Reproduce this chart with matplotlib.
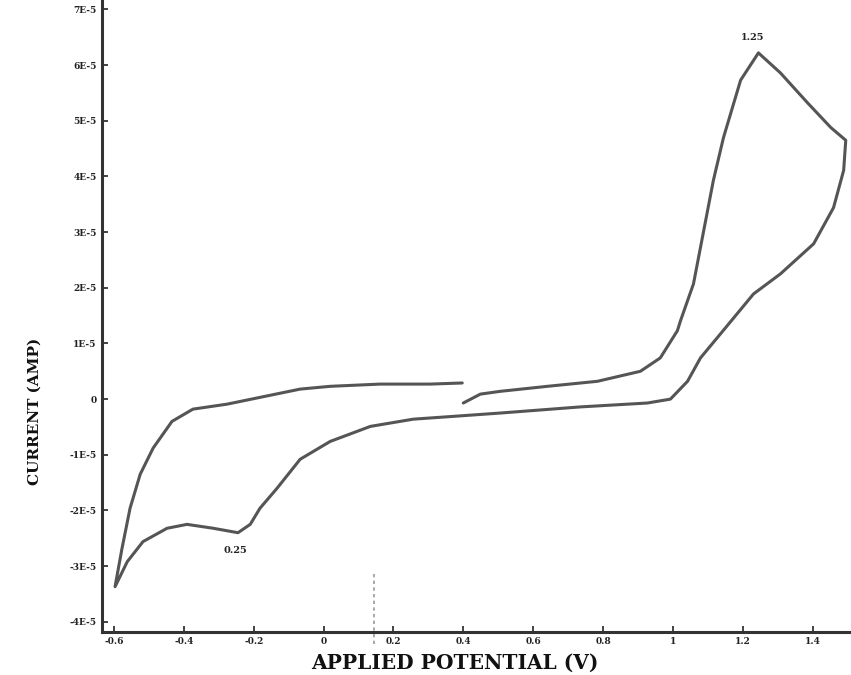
import matplotlib
matplotlib.use("Agg")
import matplotlib.pyplot as plt

# cyclic voltammogram (potential in V, current in 1E-5 A)
potential = [
    0.400, 0.449, 0.506, 0.641, 0.784, 0.907, 0.964, 1.013, 1.022, 1.059,
    1.116, 1.145, 1.194, 1.245, 1.308, 1.386, 1.452, 1.495, 1.489, 1.460,
    1.403, 1.308, 1.231, 1.136, 1.079, 1.042, 0.993, 0.927, 0.735, 0.506,
    0.371, 0.257, 0.134, 0.019, -0.067, -0.133, -0.182, -0.210, -0.245, -0.316,
    -0.391, -0.448, -0.517, -0.562, -0.597, -0.577, -0.554, -0.525, -0.488, -0.434,
    -0.374, -0.276, -0.067, 0.019, 0.162, 0.305, 0.397,
]
current_e5 = [
    -0.07, 0.09, 0.14, 0.23, 0.32, 0.50, 0.74, 1.23, 1.41, 2.07,
    3.93, 4.70, 5.73, 6.22, 5.86, 5.32, 4.88, 4.65, 4.11, 3.44,
    2.79, 2.25, 1.89, 1.17, 0.74, 0.32, 0.00, -0.07, -0.14, -0.25,
    -0.31, -0.36, -0.49, -0.76, -1.08, -1.60, -1.96, -2.25, -2.40, -2.32,
    -2.25, -2.32, -2.56, -2.92, -3.37, -2.68, -1.96, -1.35, -0.88, -0.40,
    -0.18, -0.09, 0.18, 0.23, 0.27, 0.27, 0.29,
]
current = [c * 1e-5 for c in current_e5]

x_ticks = [-0.6, -0.4, -0.2, 0, 0.2, 0.4, 0.6, 0.8, 1, 1.2, 1.4]
x_tick_labels = ["-0.6", "-0.4", "-0.2", "0", "0.2", "0.4", "0.6", "0.8", "1", "1.2", "1.4"]
y_ticks = [-4e-5, -3e-5, -2e-5, -1e-5, 0, 1e-5, 2e-5, 3e-5, 4e-5, 5e-5, 6e-5, 7e-5]
y_tick_labels = ["-4E-5", "-3E-5", "-2E-5", "-1E-5", "0", "1E-5", "2E-5",
                 "3E-5", "4E-5", "5E-5", "6E-5", "7E-5"]

peak_labels = ["1.25", "0.25"]
peak_pos = [(1.228, 6.50e-5), (-0.253, -2.72e-5)]

serif = ["DejaVu Serif"]

fig = plt.figure(figsize=(8.51, 6.75), dpi=100)
ax = fig.add_axes([0.12, 0.064, 0.88, 0.936])

ax.plot(potential, current, color="#555555", lw=2.2, solid_capstyle="round",
        solid_joinstyle="round")

for txt, (px, py) in zip(peak_labels, peak_pos):
    ax.text(px, py, txt, fontsize=7, fontweight="bold", family=serif,
            color="#222222", ha="center", va="center")

# faint dashed mark crossing the x axis in the scan
ax.plot([0.145, 0.145], [-3.15e-5, -4.4e-5], color="#999999", lw=1.2,
        ls=(0, (2, 2)), clip_on=False)

ax.set_xlim(-0.634, 1.51)
ax.set_ylim(-4.18e-5, 7.17e-5)
ax.set_xticks(x_ticks)
ax.set_xticklabels(x_tick_labels)
ax.set_yticks(y_ticks)
ax.set_yticklabels(y_tick_labels)
ax.tick_params(direction="in", length=4, width=1.2, labelsize=6.5, pad=4,
               colors="#222222")
for lab in ax.get_xticklabels() + ax.get_yticklabels():
    lab.set_fontweight("bold")
    lab.set_family(serif)

for s in ["top", "right"]:
    ax.spines[s].set_visible(False)
for s in ["left", "bottom"]:
    ax.spines[s].set_linewidth(2.2)
    ax.spines[s].set_color("#333333")

fig.text(0.535, 0.018, "APPLIED POTENTIAL (V)", fontsize=14.5, fontweight="bold",
         family=serif, ha="center", va="center", color="#111111")
fig.text(0.041, 0.39, "CURRENT (AMP)", fontsize=11, fontweight="bold",
         family=serif, ha="center", va="center", rotation=90, color="#111111")

fig.savefig("out.png", dpi=100)
